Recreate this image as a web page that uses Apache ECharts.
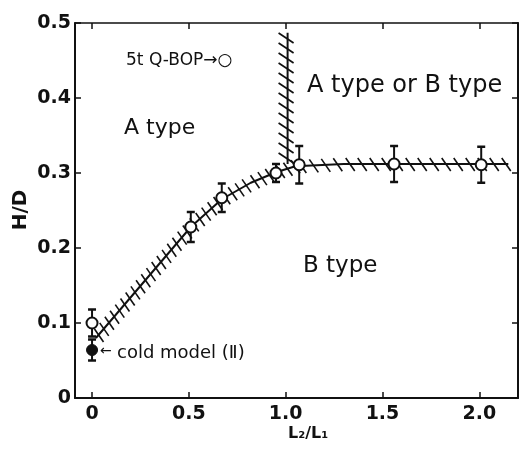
<!DOCTYPE html>
<html>
<head>
<meta charset="utf-8">
<script src="https://cdn.jsdelivr.net/npm/echarts@6/dist/echarts.min.js"></script>
<style>
html,body{margin:0;padding:0;background:#fff;}
#chart{width:525px;height:449px;}
</style>
</head>
<body>
<div id="chart"></div>
<script>
// ---- data ----
const xTicks = [0, 0.5, 1.0, 1.5, 2.0];
const yTicks = [0, 0.1, 0.2, 0.3, 0.4, 0.5];
// 5t Q-BOP measurements (open circles)
const obsX = [0, 0.51, 0.67, 0.95, 1.07, 1.56, 2.01];
const obsY = [0.100, 0.228, 0.267, 0.300, 0.311, 0.312, 0.311];
const obsErr = [0.018, 0.020, 0.019, 0.012, 0.025, 0.024, 0.024];
// cold model (II) (filled circle)
const coldX = [0];
const coldY = [0.064];
const coldErr = [0.014];
// hatched boundary between A type and B type
const boundaryX = [0.02, 0.51, 0.67, 0.82, 0.95, 1.05, 1.30, 2.15];
const boundaryY = [0.080, 0.228, 0.265, 0.287, 0.301, 0.309, 0.312, 0.312];
// vertical hatched boundary
const dividerX = [1.01, 1.01];
const dividerY = [0.312, 0.487];

const FONT = 'DejaVu Sans';
const INK = '#111';

function pairs(xs, ys) { return xs.map((x, i) => [x, ys[i]]); }
function segments(xs, ys) {
  const out = [];
  for (let i = 0; i < xs.length - 1; i++) out.push([xs[i], ys[i], xs[i + 1], ys[i + 1]]);
  return out;
}
function errData(xs, ys, es) { return xs.map((x, i) => [x, ys[i] - es[i], ys[i] + es[i]]); }

function hatchRenderer(a, b, spacingFn) {
  return function (params, api) {
    const p1 = api.coord([api.value(0), api.value(1)]);
    const p2 = api.coord([api.value(2), api.value(3)]);
    const dx = p2[0] - p1[0], dy = p2[1] - p1[1];
    const len = Math.sqrt(dx * dx + dy * dy);
    const sp = spacingFn(dx, dy);
    const children = [];
    for (let t = sp / 2; t < len; t += sp) {
      const cx = p1[0] + dx * t / len, cy = p1[1] + dy * t / len;
      children.push({
        type: 'line',
        shape: { x1: cx + a[0], y1: cy + a[1], x2: cx + b[0], y2: cy + b[1] },
        style: { stroke: INK, lineWidth: 1.6 }
      });
    }
    return { type: 'group', children: children };
  };
}

function errRenderer(params, api) {
  const lo = api.coord([api.value(0), api.value(1)]);
  const hi = api.coord([api.value(0), api.value(2)]);
  const w = 4;
  const st = { stroke: INK, lineWidth: 2 };
  return {
    type: 'group', children: [
      { type: 'line', shape: { x1: lo[0], y1: lo[1], x2: hi[0], y2: hi[1] }, style: st },
      { type: 'line', shape: { x1: lo[0] - w, y1: lo[1], x2: lo[0] + w, y2: lo[1] }, style: { stroke: INK, lineWidth: 2.5 } },
      { type: 'line', shape: { x1: hi[0] - w, y1: hi[1], x2: hi[0] + w, y2: hi[1] }, style: { stroke: INK, lineWidth: 2.5 } }
    ]
  };
}

const chart = echarts.init(document.getElementById('chart'), null, { renderer: 'canvas' });

const axisCommon = {
  axisLine: { show: true, onZero: false, lineStyle: { color: INK, width: 2 } },
  axisTick: { show: true, inside: true, length: 6, lineStyle: { color: INK, width: 1.5 } },
  splitLine: { show: false }
};

const option = {
  animation: false,
  backgroundColor: '#fff',
  grid: { left: 75, right: 7, top: 23, bottom: 51, containLabel: false },
  xAxis: [
    Object.assign({}, axisCommon, {
      type: 'value', min: -0.088, max: 2.2, position: 'bottom',
      axisTick: Object.assign({}, axisCommon.axisTick, { customValues: xTicks }),
      axisLabel: {
        customValues: xTicks, margin: 7,
        fontFamily: FONT, fontSize: 19, fontWeight: 'bold', color: INK,
        formatter: v => (v === 0 ? '0' : v.toFixed(1))
      }
    }),
    Object.assign({}, axisCommon, {
      type: 'value', min: -0.088, max: 2.2, position: 'top',
      axisLine: { show: true, onZero: false, lineStyle: { color: INK, width: 1.5 } },
      axisTick: Object.assign({}, axisCommon.axisTick, { customValues: xTicks }),
      axisLabel: { show: false }
    })
  ],
  yAxis: [
    Object.assign({}, axisCommon, {
      type: 'value', min: 0, max: 0.5, interval: 0.1, position: 'left',
      axisLabel: {
        margin: 4, fontFamily: FONT, fontSize: 19, fontWeight: 'bold', color: INK,
        formatter: v => (v === 0 ? '0' : v.toFixed(1))
      }
    }),
    Object.assign({}, axisCommon, {
      type: 'value', min: 0, max: 0.5, interval: 0.1, position: 'right',
      axisLabel: { show: false }
    })
  ],
  series: [
    {
      type: 'line', data: pairs(boundaryX, boundaryY), showSymbol: false, z: 2,
      lineStyle: { color: INK, width: 2 }, silent: true
    },
    {
      type: 'line', data: pairs(dividerX, dividerY), showSymbol: false, z: 2,
      lineStyle: { color: INK, width: 2 }, silent: true
    },
    {
      type: 'custom', data: segments(boundaryX, boundaryY), z: 2, silent: true,
      renderItem: hatchRenderer([-4, -6], [5, 7], (dx, dy) => (Math.abs(dy) < 3 ? 12 : 8))
    },
    {
      type: 'custom', data: segments(dividerX, dividerY), z: 2, silent: true,
      renderItem: hatchRenderer([-9, -6], [6, 4], () => 10)
    },
    {
      type: 'custom', data: errData(obsX, obsY, obsErr), z: 3, silent: true,
      renderItem: errRenderer
    },
    {
      type: 'custom', data: errData(coldX, coldY, coldErr), z: 3, silent: true,
      renderItem: errRenderer
    },
    {
      type: 'scatter', data: pairs(obsX, obsY), symbol: 'circle', symbolSize: 11, z: 4,
      itemStyle: { color: '#fff', borderColor: INK, borderWidth: 2, opacity: 1 }
    },
    {
      type: 'scatter', data: pairs(coldX, coldY), symbol: 'circle', symbolSize: 11, z: 4,
      itemStyle: { color: INK, borderColor: INK, borderWidth: 1, opacity: 1 }
    }
  ],
  graphic: [
    { type: 'text', left: 126, top: 52, style: { text: '5t Q-BOP→○', fontFamily: FONT, fontSize: 17, fill: INK } },
    { type: 'text', left: 124, top: 117, style: { text: 'A type', fontFamily: FONT, fontSize: 22, fill: INK } },
    { type: 'text', left: 307, top: 74, style: { text: 'A type or B type', fontFamily: FONT, fontSize: 24, fill: INK } },
    { type: 'text', left: 303, top: 255, style: { text: 'B type', fontFamily: FONT, fontSize: 23, fill: INK } },
    { type: 'text', left: 100, top: 344, style: { text: '←', fontFamily: FONT, fontSize: 14, fill: INK } },
    { type: 'text', left: 117, top: 344, style: { text: 'cold model (Ⅱ)', fontFamily: FONT, fontSize: 18, fill: INK } },
    { type: 'text', left: 288, top: 426, style: { text: 'L₂/L₁', fontFamily: FONT, fontSize: 16, fontWeight: 'bold', fill: INK } },
    { type: 'text', x: 21, y: 210, rotation: Math.PI / 2, style: { text: 'H/D', fontFamily: FONT, fontSize: 20, fontWeight: 'bold', fill: INK, align: 'center', verticalAlign: 'middle' } }
  ]
};
chart.setOption(option);
</script>
</body>
</html>
